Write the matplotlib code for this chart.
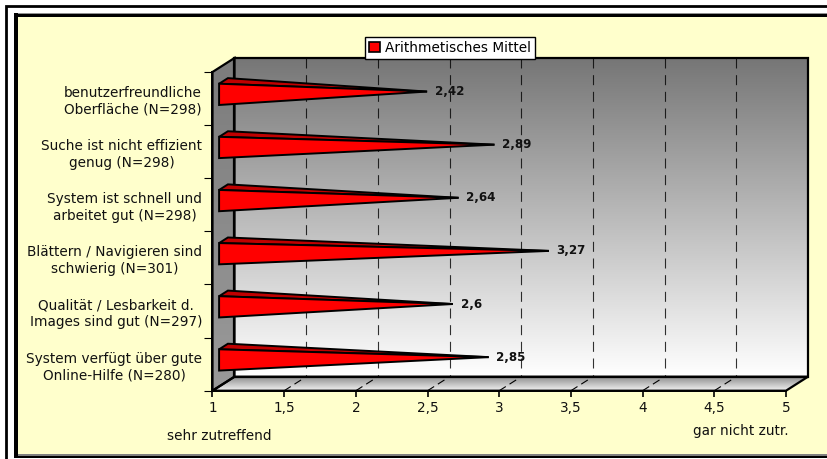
import numpy as np
import matplotlib
matplotlib.use('Agg')
import matplotlib.pyplot as plt
from matplotlib.colors import LinearSegmentedColormap
from matplotlib.patches import Polygon, Rectangle

labels = ['benutzerfreundliche\nOberfläche (N=298)',
          'Suche ist nicht effizient\ngenug (N=298)',
          'System ist schnell und\narbeitet gut (N=298)',
          'Blättern / Navigieren sind\nschwierig (N=301)',
          'Qualität / Lesbarkeit d.\nImages sind gut (N=297)',
          'System verfügt über gute\nOnline-Hilfe (N=280)']
values = [2.42, 2.89, 2.64, 3.27, 2.6, 2.85]
value_labels = ['2,42', '2,89', '2,64', '3,27', '2,6', '2,85']
x_ticks = [1, 1.5, 2, 2.5, 3, 3.5, 4, 4.5, 5]
x_tick_labels = ['1', '1,5', '2', '2,5', '3', '3,5', '4', '4,5', '5']

W, H = 828, 459
YELLOW = '#ffffcc'
TEXT = '#111111'
FS = 9.8
# 3d depth in data units
DX = 22 / 143.4
DY = 14 / 53.1

fig = plt.figure(figsize=(W / 100, H / 100), dpi=100, facecolor='white')
plt.rcParams['font.family'] = ['DejaVu Sans']


def px_rect(x0, y0, x1, y1, **kw):
    r = Rectangle((x0 / W, 1 - y1 / H), (x1 - x0) / W, (y1 - y0) / H,
                  transform=fig.transFigure, zorder=-5, **kw)
    fig.add_artist(r)


# frames round the chart
px_rect(6, 6, W + 5, H + 5, facecolor='white', edgecolor='black', linewidth=2)
px_rect(14, 12.5, W + 5, 458, facecolor='black', edgecolor='none')
px_rect(18, 13, W + 5, 14, facecolor='#909090', edgecolor='none')
px_rect(18, 454, W + 5, 456, facecolor='#808080', edgecolor='none')
px_rect(18, 16.5, W + 5, 454, facecolor=YELLOW, edgecolor='none')

ax = fig.add_axes([212.5 / W, 1 - 390.7 / H, 573.5 / W, 318.7 / H])
ax.patch.set_visible(False)


def gradient(corners, top, bottom, y0, y1):
    cmap = LinearSegmentedColormap.from_list('g', [top, bottom])
    im = ax.imshow(np.linspace(0, 1, 256).reshape(-1, 1), cmap=cmap, aspect='auto',
                   extent=(1, 5 + DX, y1, y0), zorder=1)
    clip = Polygon(corners, closed=True, transform=ax.transData)
    im.set_clip_box(fig.bbox)
    im.set_clip_path(clip)


back = [(1 + DX, -DY), (5 + DX, -DY), (5 + DX, 6 - DY), (1 + DX, 6 - DY)]
side = [(1, 0), (1 + DX, -DY), (1 + DX, 6 - DY), (1, 6)]
floor = [(1, 6), (1 + DX, 6 - DY), (5 + DX, 6 - DY), (5, 6)]
gradient(back, '#767676', '#ffffff', -DY, 6 - DY)
gradient(side, '#7c7c7c', '#9a9a9a', -DY, 6)
gradient(floor, '#8a8a8a', '#f4f4f4', 6 - DY, 6)

for corners in (back, side, floor):
    ax.add_patch(Polygon(corners, closed=True, facecolor='none', edgecolor='black',
                         linewidth=1.6, clip_on=False, zorder=2))

# dashed grid, on the back wall and across the floor
for v in x_ticks[1:-1]:
    ax.plot([v + DX, v + DX], [-DY, 6 - DY], color='black', linewidth=0.8,
            dashes=(9, 6), clip_on=False, zorder=2.5, alpha=0.8)
    ax.plot([v, v + DX], [6, 6 - DY], color='black', linewidth=0.8,
            dashes=(7, 4), clip_on=False, zorder=2.5)

# pointed bars
half = 0.2
for i, v in enumerate(values):
    c = i + 0.5
    front_x, front_y = 1 + 0.3 * DX, c - 0.3 * DY
    back_x, back_y = 1 + 0.7 * DX, c - 0.7 * DY
    tip = (v + 0.5 * DX, c - 0.5 * DY)
    ax.add_patch(Polygon([(front_x, front_y - half), (back_x, back_y - half), tip],
                         closed=True, facecolor='#c00000', edgecolor='black',
                         linewidth=1.4, clip_on=False, zorder=3))
    ax.add_patch(Polygon([(front_x, front_y - half), (front_x, front_y + half), tip],
                         closed=True, facecolor='#ff0000', edgecolor='black',
                         linewidth=1.4, clip_on=False, zorder=4))
    ax.annotate(value_labels[i], tip, xytext=(5.5, 0), textcoords='offset points',
                ha='left', va='center', fontsize=8.6, fontweight='bold',
                color=TEXT, zorder=5)

ax.set_xlim(1, 5)
ax.set_ylim(6, 0)
ax.set_xticks(x_ticks)
ax.set_xticklabels(x_tick_labels, fontsize=FS, color=TEXT)
ax.set_yticks(range(7))
ax.set_yticklabels([])
ax.set_yticks(np.arange(6) + 0.5, minor=True)
ax.set_yticklabels(labels, minor=True, fontsize=FS, color=TEXT,
                   multialignment='center', linespacing=1.22)
ax.tick_params(axis='x', length=4.5, width=1.2, pad=3)
ax.tick_params(axis='y', which='major', length=5.5, width=0.8)
ax.tick_params(axis='y', which='minor', length=0, pad=7.5)
for name in ('top', 'right'):
    ax.spines[name].set_visible(False)
for name in ('left', 'bottom'):
    ax.spines[name].set_linewidth(1.4)
    ax.spines[name].set_zorder(2.8)

h = [Rectangle((0, 0), 1, 1, facecolor='#ff0000', edgecolor='black', linewidth=1.2)]
leg = ax.legend(h, ['Arithmetisches Mittel'], loc='center', fontsize=FS,
                bbox_to_anchor=((450 - 212.5) / 573.5, (390.7 - 48) / 318.7),
                fancybox=False, framealpha=1, facecolor='white', edgecolor='black',
                handlelength=0.8, handleheight=0.7, handletextpad=0.35,
                borderpad=0.3, borderaxespad=0)
leg.get_frame().set_linewidth(1)
leg.set_zorder(6)

fig.text(219 / W, 1 - 436 / H, 'sehr zutreffend', ha='center', va='center',
         fontsize=FS, color=TEXT)
fig.text(741 / W, 1 - 431 / H, 'gar nicht zutr.', ha='center', va='center',
         fontsize=FS, color=TEXT)

fig.savefig('out.png', dpi=100)
